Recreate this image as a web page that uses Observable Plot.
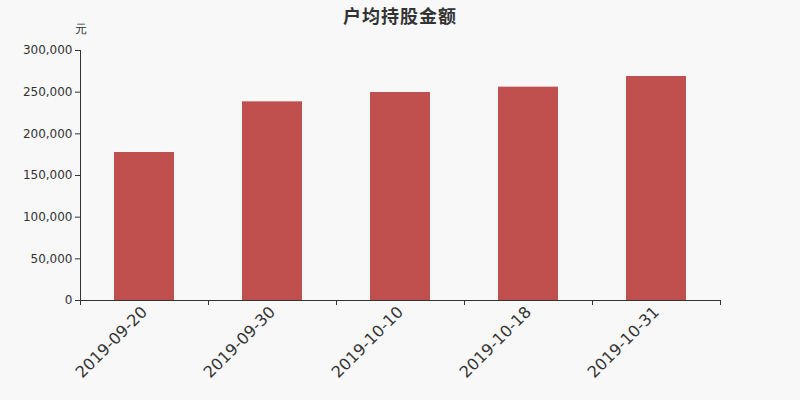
<!DOCTYPE html>
<html>
<head>
<meta charset="utf-8">
<script src="https://cdn.jsdelivr.net/npm/d3@7"></script>
<script src="https://cdn.jsdelivr.net/npm/@observablehq/plot@0.6"></script>
<style>
  html, body { margin: 0; padding: 0; background: #f8f8f8; }
  #wrap { position: relative; width: 800px; height: 400px; }
  #title { position: absolute; top: 2px; left: 0; width: 800px; text-align: center;
    font-family: "Noto Sans CJK SC", "DejaVu Sans", sans-serif; font-weight: bold;
    font-size: 18px; letter-spacing: 1px; color: #333; }
</style>
</head>
<body>
<div id="wrap"><div id="title">户均持股金额</div></div>
<script>
const dates = ["2019-09-20", "2019-09-30", "2019-10-10", "2019-10-18", "2019-10-31"];
const values = [177600, 238400, 249600, 256000, 268800];
const yTicks = [0, 50000, 100000, 150000, 200000, 250000, 300000];
const unit = "元";

const data = dates.map((d, i) => ({date: d, value: values[i]}));

const chart = Plot.plot({
  width: 800,
  height: 400,
  marginTop: 50,
  marginBottom: 100,
  marginLeft: 80,
  marginRight: 80,
  style: {background: "transparent", fontFamily: "DejaVu Sans, sans-serif", color: "#333"},
  x: {domain: dates, padding: 0, label: null},
  y: {domain: [0, 300000], label: null},
  marks: [
    Plot.barY(data, {x: "date", y: "value", fill: "#c0504d", insetLeft: 34, insetRight: 34}),
    Plot.frame({anchor: "left", stroke: "#333"}),
    Plot.frame({anchor: "bottom", stroke: "#333"}),
    Plot.axisY({ticks: yTicks, tickFormat: d3.format(","), tickSize: 5, tickPadding: 3, fontSize: 12, label: null, stroke: "#333", fill: "#333"}),
    Plot.axisX({tickSize: 0, tickRotate: -45, fontSize: 16, tickPadding: 9, label: null, fill: "#333"}),
    Plot.axisX({text: null, tickSize: 5, dx: -64, label: null, stroke: "#333"}),
    Plot.axisX({ticks: [dates[dates.length - 1]], text: null, tickSize: 5, dx: 64, label: null, stroke: "#333"}),
    Plot.text([unit], {frameAnchor: "top-left", lineAnchor: "middle", dy: -21.5, textAnchor: "middle", fontSize: 12, fill: "#333"})
  ]
});
document.getElementById("wrap").appendChild(chart);
</script>
</body>
</html>
